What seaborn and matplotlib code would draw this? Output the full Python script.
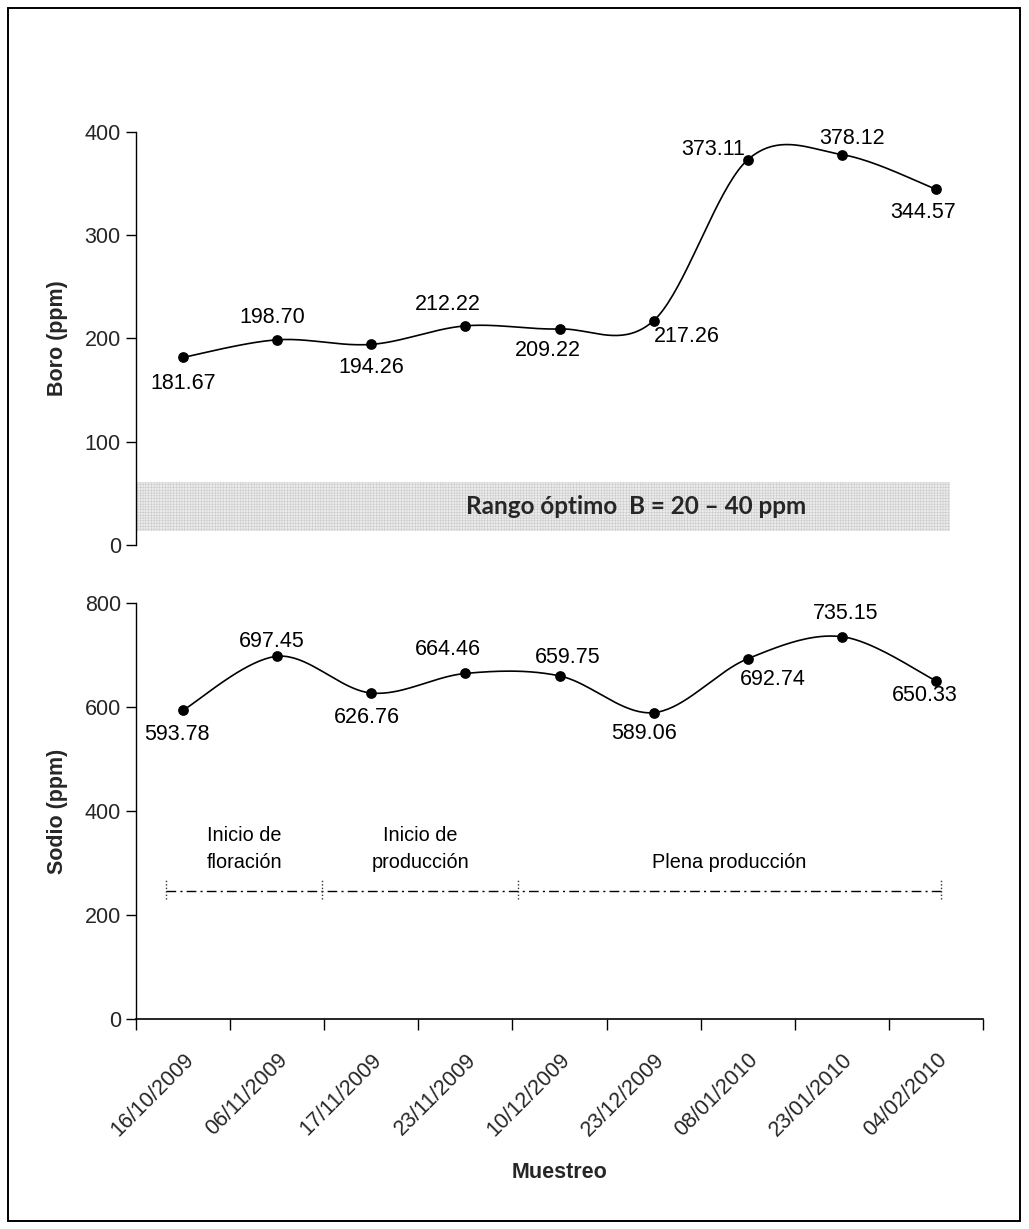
import numpy as np
import pandas as pd
import matplotlib
matplotlib.use("Agg")
import matplotlib.pyplot as plt
import seaborn as sns
from matplotlib.patches import Rectangle

# Sampling dates (categorical x axis)
fechas = ["16/10/2009", "06/11/2009", "17/11/2009", "23/11/2009", "10/12/2009",
          "23/12/2009", "08/01/2010", "23/01/2010", "04/02/2010"]

# Foliar boron and sodium (ppm)
boro = [181.67, 198.70, 194.26, 212.22, 209.22, 217.26, 373.11, 378.12, 344.57]
sodio = [593.78, 697.45, 626.76, 664.46, 659.75, 589.06, 692.74, 735.15, 650.33]

# Optimum boron band and its caption
banda_boro = (13.6, 61.0)
texto_banda = "Rango óptimo  B = 20 – 40 ppm"

# Crop phases drawn under the sodium curve
fases = ["Inicio de\nfloración", "Inicio de\nproducción", "Plena producción"]
limites_fase = [-0.18, 1.48, 3.56, 8.05]

# Data-label offsets in pixels (dx, dy)
off_boro = [(0, -26), (-5, 22), (0, -23), (-18, 21), (-12, -22),
            (33, -16), (-35, 10), (10, 16), (-13, -23)]
off_sodio = [(-6, -24), (-5, 15), (-4, -24), (-18, 24), (8, 18),
             (-10, -21), (25, -21), (4, 23), (-11, -15)]

sns.set_theme(style="white")
plt.rcParams["font.family"] = ["Liberation Sans", "DejaVu Sans"]
plt.rcParams["hatch.linewidth"] = 0.35

FONT = 15.5


def suavizar(valores, n=40):
    """Bezier smoothing through every point (Catmull-Rom style)."""
    pts = np.column_stack([np.arange(len(valores), dtype=float), np.asarray(valores, float)])
    ext = np.vstack([pts[0], pts, pts[-1]])
    t = np.linspace(0, 1, n)[:, None]
    tramos = []
    for i in range(len(pts) - 1):
        p0, p1, p2, p3 = ext[i], ext[i + 1], ext[i + 2], ext[i + 3]
        c1 = p1 + (p2 - p0) / 6.0
        c2 = p2 - (p3 - p1) / 6.0
        seg = ((1 - t) ** 3) * p1 + 3 * ((1 - t) ** 2) * t * c1 + 3 * (1 - t) * t ** 2 * c2 + t ** 3 * p2
        tramos.append(seg if i == 0 else seg[1:])
    curva = np.vstack(tramos)
    return pd.DataFrame({"x": curva[:, 0], "y": curva[:, 1]})


fig = plt.figure(figsize=(10.29, 12.29), dpi=100)
ax1 = fig.add_axes([0.1322, 0.5566, 0.8231, 0.3360])
ax2 = fig.add_axes([0.1322, 0.1709, 0.8231, 0.3385])

# outer frame
fig.patches.append(Rectangle((8 / 1029, 8 / 1229), 1012 / 1029, 1213 / 1229,
                             transform=fig.transFigure, fill=False, lw=1.4,
                             ec="black", zorder=0))


def panel(ax, valores, offsets, ymax, paso, etiqueta):
    df = pd.DataFrame({"x": np.arange(len(valores)), "y": valores})
    sns.lineplot(data=suavizar(valores), x="x", y="y", ax=ax, color="black",
                 lw=1.2, sort=False, estimator=None)
    sns.scatterplot(data=df, x="x", y="y", ax=ax, color="black", s=60,
                    edgecolor="black", linewidth=0, zorder=5, clip_on=False)
    for xi, v, (dx, dy) in zip(df["x"], valores, offsets):
        ax.annotate(f"{v:.2f}", (xi, v), xytext=(dx, dy), textcoords="offset pixels",
                    ha="center", va="center", fontsize=FONT, color="black",
                    annotation_clip=False)
    ax.set_xlim(-0.5, len(valores) - 0.5)
    ax.set_ylim(0, ymax)
    ax.set_yticks(np.arange(0, ymax + 1, paso))
    ax.tick_params(axis="y", direction="out", length=7, width=1, color="black",
                   labelsize=FONT, pad=4, left=True)
    for s in ("top", "right"):
        ax.spines[s].set_visible(False)
    ax.spines["left"].set_color("black")
    ax.spines["left"].set_linewidth(1)
    ax.set_ylabel(etiqueta, fontsize=FONT, fontweight="bold", va="center")
    ax.yaxis.set_label_coords(-0.093, 0.5)
    ax.set_facecolor("none")


panel(ax1, boro, off_boro, 400, 100, "Boro (ppm)")
panel(ax2, sodio, off_sodio, 800, 200, "Sodio (ppm)")

# top panel: no category axis
ax1.spines["bottom"].set_visible(False)
ax1.set_xticks([])
ax1.set_xlabel("")

# optimum boron band
ax1.fill_between([-0.5, 8.15], banda_boro[0], banda_boro[1], facecolor="#ebebeb",
                 edgecolor="#c8c8c8", hatch="++++++", lw=0, zorder=1)
ax1.text(0.59, 37, texto_banda, transform=ax1.get_yaxis_transform(),
         ha="center", va="center", fontsize=17.5, fontweight="bold",
         family=["Lato", "DejaVu Sans"], zorder=3)

# bottom panel category axis: ticks between categories, labels centred
n = len(fechas)
ax2.set_xticks(np.arange(-0.5, n, 1.0))
ax2.set_xticklabels([])
ax2.set_xticks(np.arange(n), minor=True)
ax2.set_xticklabels(fechas, minor=True, rotation=45, ha="right", va="top",
                    rotation_mode="anchor", fontsize=FONT)
ax2.tick_params(axis="x", which="major", direction="out", length=8, width=1,
                color="black", bottom=True)
ax2.tick_params(axis="x", which="minor", length=0, pad=22, bottom=True)
ax2.spines["bottom"].set_color("black")
ax2.spines["bottom"].set_linewidth(1.2)
ax2.set_xlabel("Muestreo", fontsize=FONT, fontweight="bold", va="center")
ax2.xaxis.set_label_coords(0.5, -0.37)

# crop phases
y_linea = 247
ax2.plot([limites_fase[0], limites_fase[-1]], [y_linea, y_linea], color="black",
         lw=1, linestyle=(0, (7, 3, 1.5, 3)))
for xb in limites_fase:
    ax2.plot([xb, xb], [231, 269], color="#333333", lw=1, linestyle=(0, (1, 1.5)))
for i, txt in enumerate(fases):
    xc = (limites_fase[i] + limites_fase[i + 1]) / 2
    ax2.text(xc, 283, txt, ha="center", va="bottom", fontsize=14.3,
             linespacing=1.5, color="black")

fig.savefig("out.png", dpi=100, facecolor="white")
